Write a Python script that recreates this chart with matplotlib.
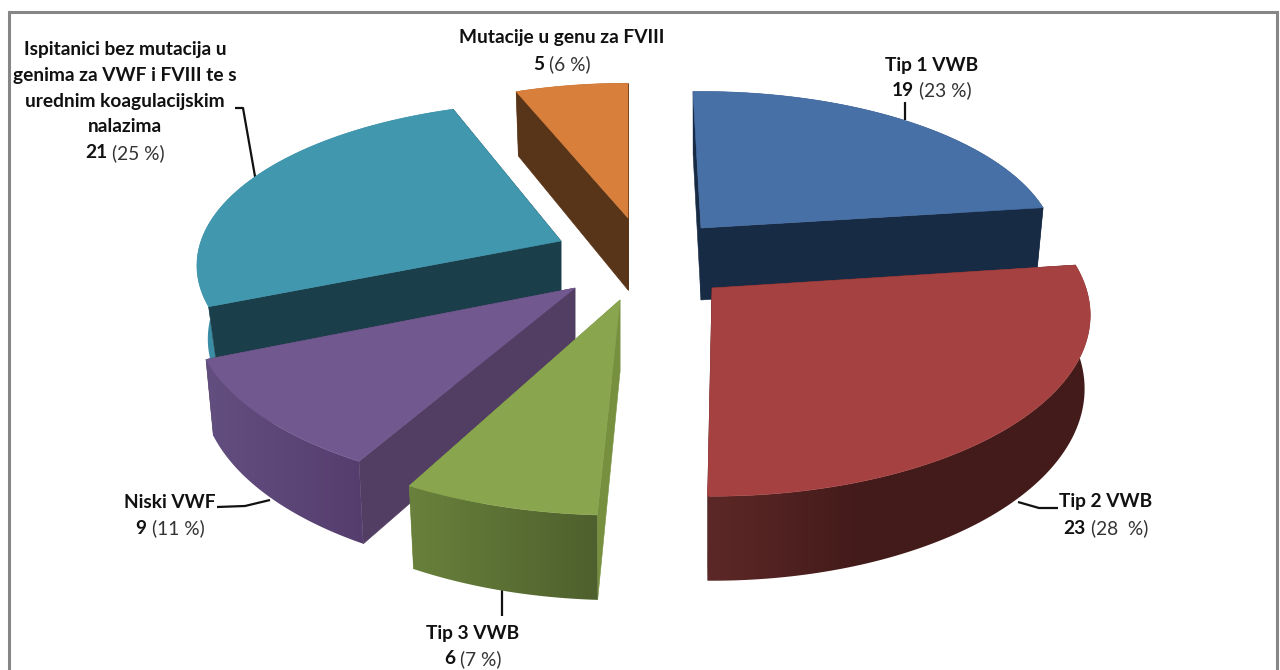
import numpy as np
import matplotlib
matplotlib.use("Agg")
import matplotlib.pyplot as plt
from matplotlib.patches import Polygon
from matplotlib.colors import to_rgb

# ---- data ----
categories = ["Tip 1 VWB", "Tip 2 VWB", "Tip 3 VWB", "Niski VWF",
              "Ispitanici bez mutacija u\ngenima za VWF i FVIII te s\nurednim koagulacijskim\nnalazima",
              "Mutacije u genu za FVIII"]
counts = [19, 23, 6, 9, 21, 5]
percent_labels = ["(23 %)", "(28  %)", "(7 %)", "(11 %)", "(25 %)", "(6 %)"]

# ---- colours ----
top_colors = ["#4770A6", "#A54241", "#89A54E", "#71588F", "#4197AE", "#D87F3B"]
radial_colors = ["#182B45", "#45191A", "#76903F", "#523E63", "#1A3F4B", "#583418"]
wall_start = ["#22395C", "#5C2827", "#69813C", "#634E80", "#3A8DA5", "#8A5220"]
wall_end = ["#1B2F4D", "#431B1A", "#4E602D", "#553E6E", "#3A8DA5", "#6A3D17"]
wall_stop = [1.0, 0.4, 1.0, 1.0, 1.0, 1.0]

# ---- projected geometry of every slice (pixels of the picture) ----
apex = [(701, 228), (712, 288), (620, 300), (575, 288), (561, 241), (628, 218)]
radius_x = [352, 374, 387, 377, 360, 345]
radius_y = [157, 177, 183, 174, 160, 155]
start_adjust = [-1.5, 0.0, 0.7, 1.7, 0.0, 0.0]
end_adjust = [0.0, -1.6, 0.0, 0.0, 1.7, 0.0]
wall_in_front = [False, True, True, True, False, False]
bottom_kx = [0.98, 0.985, 0.98, 0.98, 0.97, 0.98]
bottom_ky = 1.06
perspective = 0.15
depth = 72
draw_order = [0, 5, 4, 1, 3, 2]

fig = plt.figure(figsize=(12.8, 6.7), dpi=100)
ax = fig.add_axes([0, 0, 1, 1])
ax.axis("off")


def project(i, theta, bottom=False):
    """Screen position of the rim of slice i at clockwise angle theta (deg)."""
    t = np.radians(theta)
    s = 1 / (1 + perspective * np.cos(t))
    dx = radius_x[i] * np.sin(t) * s
    dy = -radius_y[i] * np.cos(t) * s
    if bottom:
        return np.column_stack([apex[i][0] + bottom_kx[i] * dx,
                                apex[i][1] + depth + bottom_ky * dy])
    return np.column_stack([apex[i][0] + dx, apex[i][1] + dy])


edges = np.cumsum([0] + counts) / sum(counts) * 360

for z, i in enumerate(draw_order):
    a, b = edges[i] + start_adjust[i], edges[i + 1] + end_adjust[i]
    th = np.linspace(a, b, 120)
    top = project(i, th)
    bot = project(i, th, bottom=True)
    ap = np.array(apex[i], float)
    ap_b = ap + [0, depth]
    base = z * 10 + 1
    z_wall, z_radial = (base + 1, base) if wall_in_front[i] else (base, base + 1)

    # curved outer wall: horizontal gradient clipped to the wall's outline
    outline = np.vstack([top, bot[::-1]])
    x0, x1 = outline[:, 0].min(), outline[:, 0].max()
    y0, y1 = outline[:, 1].min(), outline[:, 1].max()
    c0, c1 = np.array(to_rgb(wall_start[i])), np.array(to_rgb(wall_end[i]))
    ramp = np.clip(np.linspace(0, 1, 256) / wall_stop[i], 0, 1)
    img = (c0[None, :] + (c1 - c0)[None, :] * ramp[:, None])[None, :, :]
    im = ax.imshow(img, extent=[x0, x1, y1, y0], aspect="auto", zorder=z_wall,
                   interpolation="bilinear")
    im.set_clip_path(Polygon(outline, closed=True, transform=ax.transData))

    # radial side faces
    for k in (0, -1):
        face = np.vstack([ap, top[k], bot[k], ap_b])
        ax.fill(face[:, 0], face[:, 1], color=radial_colors[i], lw=0.4, zorder=z_radial)

    # top face
    poly = np.vstack([ap, top])
    ax.fill(poly[:, 0], poly[:, 1], color=top_colors[i], lw=0.4, zorder=base + 2)

ax.set_xlim(0, 1280)
ax.set_ylim(670, 0)

# frame (open at the bottom, cropped by the picture)
ax.plot([8.5, 8.5, 1277, 1277], [672, 11.5, 11.5, 672], color="#868686", lw=2.2,
        solid_joinstyle="miter", clip_on=False, zorder=100)

# leader lines
leaders = [([905, 905], [102, 120]),
           ([1058, 1039, 1018], [508, 508, 502]),
           ([502, 502], [590, 616]),
           ([217, 245, 270], [507, 506, 500]),
           ([235, 243, 256], [108, 108, 182])]
for xs, ys in leaders:
    ax.plot(xs, ys, color="#111111", lw=1.6, solid_capstyle="butt", zorder=0)

# labels
FONT = "Lato"
FS = 13.8
TXT = "#111111"
label_x = [932, 1106, 473, 170, 125, 562]
label_y = [[65], [502], [634], [502], [50, 76, 102, 127], [38]]
value_y = [90, 528, 659, 528, 153, 64]

for i, name in enumerate(categories):
    for line, y in zip(name.split("\n"), label_y[i]):
        ax.text(label_x[i], y, line, ha="center", va="center", family=FONT,
                fontsize=FS, fontweight="bold", color=TXT, zorder=101)
    r = fig.canvas.get_renderer()
    bold = ax.text(0, value_y[i], str(counts[i]), ha="left", va="center", family=FONT,
                   fontsize=FS, fontweight="bold", color=TXT, zorder=101)
    reg = ax.text(0, value_y[i], percent_labels[i], ha="left", va="center", family=FONT,
                  fontsize=FS, color="#333333", zorder=101)
    wb = bold.get_window_extent(r).width
    wr = reg.get_window_extent(r).width
    gap = 5
    x0 = label_x[i] - (wb + gap + wr) / 2
    bold.set_x(x0)
    reg.set_x(x0 + wb + gap)

fig.savefig("out.png", dpi=100, facecolor="white")
